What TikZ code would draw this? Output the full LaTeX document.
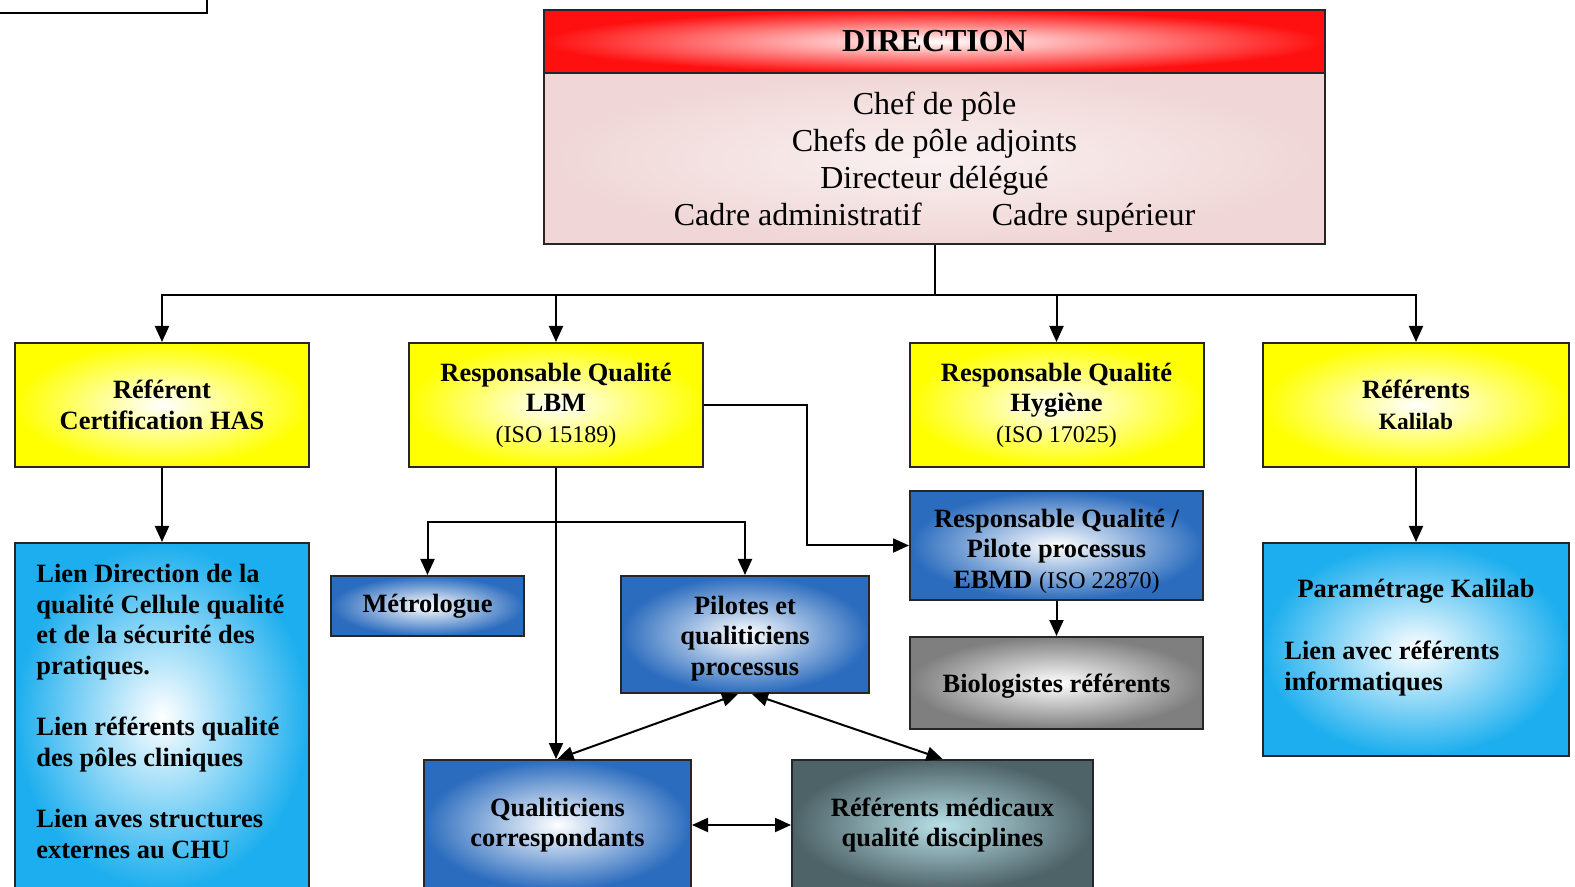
\documentclass[tikz,border=0pt]{standalone}
\usepackage{fontspec}
\setmainfont{Liberation Serif}
\usetikzlibrary{arrows.meta,positioning}
\definecolor{DirRed}{HTML}{FF1010}
\definecolor{DirPink}{HTML}{F0D6D6}
\definecolor{HasYellow}{HTML}{FFFF00}
\definecolor{SkyBlue}{HTML}{1CAEEE}
\definecolor{MidBlue}{HTML}{2B6CBE}
\definecolor{MidGrey}{HTML}{7F7F7F}
\definecolor{Slate}{HTML}{4E6368}
\definecolor{SlateLight}{HTML}{B8E0E8}
\newcommand{\isotxt}[1]{{\mdseries\fontsize{12}{15.3}\selectfont #1}}
\newcommand{\tstrut}[1]{\rule{0pt}{#1}}

\begin{document}
\begin{tikzpicture}[x=0.5pt,y=-0.5pt,
  box/.style={draw=black!85,line width=1pt,inner sep=0pt,align=center,
    font=\bfseries\fontsize{13.2}{15.3}\selectfont},
  yellowbox/.style={box,inner color=white,outer color=HasYellow,
    minimum width=147pt,minimum height=62pt},
  skybox/.style={box,inner color=white,outer color=SkyBlue},
  bluebox/.style={box,inner color=white,outer color=MidBlue},
  greybox/.style={box,inner color=white,outer color=MidGrey},
  slatebox/.style={box,inner color=SlateLight,outer color=Slate},
  boxtxt/.style={inner sep=0pt,align=left,font=\bfseries\fontsize{13.2}{15.3}\selectfont},
  arr/.style={-{Triangle[length=8pt,width=7pt]},line width=1pt},
  arrboth/.style={{Triangle[length=8pt,width=7pt]}-{Triangle[length=8pt,width=7pt]},line width=1pt}]
  \useasboundingbox (0,0) rectangle (1575,887);

  % box cut by the page corner
  \node[draw,line width=1pt,minimum width=250pt,minimum height=40pt,anchor=south east]
    (legend) at (208,14) {};

  % direction
  \node[box,inner color=white,outer color=DirRed,minimum width=390.5pt,minimum height=31.5pt,
        font=\bfseries\fontsize{16}{18}\selectfont] (dirhead) at (934.5,41.5) {DIRECTION};
  \node[box,inner color=DirPink!35,outer color=DirPink,minimum width=390.5pt,minimum height=85.5pt,
        font=\fontsize{16}{18.5}\selectfont] (dir) at (934.5,158.5)
    {\tstrut{15pt}Chef de pôle\\Chefs de pôle adjoints\\Directeur délégué\\
     Cadre administratif\hspace{35pt}Cadre supérieur};

  % first level
  \node[yellowbox] (has) at (162,405) {Référent\\Certification HAS};
  \node[yellowbox] (lbm) at (556,405) {Responsable Qualité\\LBM\\\isotxt{(ISO 15189)}};
  \node[yellowbox] (hyg) at (1056.5,405) {Responsable Qualité\\Hygiène\\\isotxt{(ISO 17025)}};
  \node[yellowbox,minimum width=153pt] (kali) at (1416,405)
    {Référents\\{\fontsize{11.7}{14}\selectfont Kalilab}};

  % second level
  \node[skybox,minimum width=147pt,minimum height=173.5pt] (hasinfo) at (162,716.5) {};
  \node[boxtxt,anchor=north west] (hasinfotxt) at (36,564)
    {Lien Direction de la\\qualité Cellule qualité\\et de la sécurité des\\pratiques.\\[15.3pt]
     Lien référents qualité\\des pôles cliniques\\[15.3pt]
     Lien aves structures\\externes au CHU};
  \node[bluebox,minimum width=96.5pt,minimum height=30pt] (metro) at (427.5,606) {Métrologue};
  \node[bluebox,minimum width=124pt,minimum height=58.5pt] (pilotes) at (745,634.5)
    {\tstrut{13pt}Pilotes et\\qualiticiens\\processus};
  \node[bluebox,minimum width=146.5pt,minimum height=54.5pt] (ebmd) at (1056.5,545.5)
    {\tstrut{15pt}Responsable Qualité /\\Pilote processus\\EBMD \isotxt{(ISO 22870)}};
  \node[greybox,minimum width=146.5pt,minimum height=46pt] (bio) at (1056.5,683)
    {\tstrut{12pt}Biologistes référents};
  \node[skybox,minimum width=153pt,minimum height=106.5pt] (param) at (1416,649.5) {};
  \node[boxtxt,align=center] (paramtitle) at (1416,591) {Paramétrage Kalilab};
  \node[boxtxt,anchor=north west] (paramtxt) at (1284,641) {Lien avec référents\\informatiques};
  \node[bluebox,minimum width=133.5pt,minimum height=65pt] (qualcor) at (557.5,825)
    {Qualiticiens\\correspondants};
  \node[slatebox,minimum width=150.5pt,minimum height=65pt] (medref) at (942.5,825)
    {Référents médicaux\\qualité disciplines};

  % connectors
  \draw[line width=1pt] (dir.south) -- ++(0,50) coordinate (bus);
  \foreach \n in {has,lbm,hyg,kali}
    \draw[arr] (bus) -| (\n.north);
  \draw[arr] (has.south) -- (hasinfo.north);
  \draw[arr] (kali.south) -- (param.north);
  \draw[line width=1pt] (lbm.south) -- ++(0,54) coordinate (split);
  \draw[arr] (split) -| (metro.north);
  \draw[arr] (split) -| (pilotes.north);
  \draw[arr] (lbm.south) -- (lbm.south |- qualcor.north);
  \draw[arr] (lbm.east) -- ++(103,0) |- (ebmd.west);
  \draw[arr] (ebmd.south) -- (bio.north);
  \draw[arrboth] (qualcor.north) -- ([xshift=-3.5pt]pilotes.south);
  \draw[arrboth] ([xshift=3.5pt]pilotes.south) -- (medref.north);
  \draw[arrboth] (qualcor.east) -- (medref.west);
\end{tikzpicture}
\end{document}
